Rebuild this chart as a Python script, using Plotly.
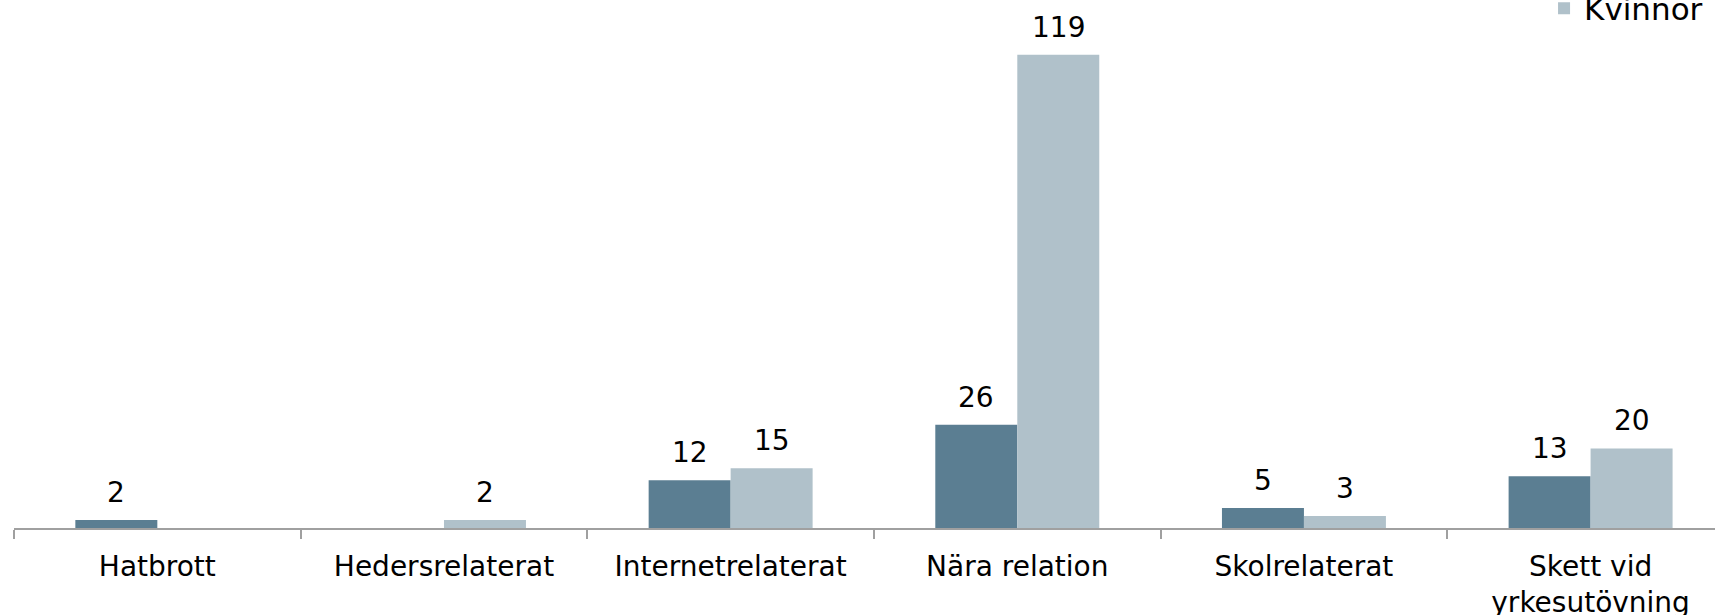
import plotly.graph_objects as go

categories = ["Hatbrott", "Hedersrelaterat", "Internetrelaterat", "Nära relation", "Skolrelaterat", "Skett vid<br>yrkesutövning"]
man = [2, None, 12, 26, 5, 13]
kvinnor = [None, 2, 15, 119, 3, 20]

C_MAN = "#5b7e92"
C_KV = "#b0c1ca"
FONT = "DejaVu Sans"
FS = 28

fig = go.Figure()
fig.add_trace(go.Bar(x=categories, y=man, name="Män", marker=dict(color=C_MAN, line=dict(width=0)),
                     offsetgroup="m", showlegend=False))
fig.add_trace(go.Bar(x=categories, y=kvinnor, name="Kvinnor", marker=dict(color=C_KV, line=dict(width=0)),
                     offsetgroup="k", showlegend=True))

# data labels
bw = 0.286
for i, c in enumerate(categories):
    for val, off in ((man[i], -bw / 2), (kvinnor[i], bw / 2)):
        if val is None:
            continue
        fig.add_annotation(x=i + off, y=val, xref="x", yref="y", text=str(val),
                           showarrow=False, yanchor="bottom", yshift=9,
                           font=dict(family=FONT, size=FS, color="#000000"))

fig.update_layout(
    width=1715, height=615,
    margin=dict(l=14, r=0, t=0, b=87, autoexpand=False),
    paper_bgcolor="white", plot_bgcolor="white",
    barmode="group", bargap=0.428, bargroupgap=0,
    font=dict(family=FONT, size=FS, color="#000000"),
    showlegend=True,
    legend=dict(x=0.8995, xanchor="left", y=1.035, yanchor="top", orientation="v",
                font=dict(family=FONT, size=31), bgcolor="rgba(0,0,0,0)",
                borderwidth=0, tracegroupgap=0),
    xaxis=dict(type="category", range=[-0.5, 5.434], showline=True, linecolor="#a0a0a0", linewidth=2,
               ticks="outside", tickson="boundaries", ticklen=9, tickcolor="#a0a0a0", tickwidth=2,
               automargin=False, ticklabelstandoff=12,
               showgrid=False, zeroline=False, tickfont=dict(family=FONT, size=FS, color="#000000")),
    yaxis=dict(range=[0, 132.8], visible=False, showgrid=False, zeroline=False, automargin=False),
)

fig.write_html("out.html", config={"displayModeBar": False},
               post_script="document.body.style.margin='0';document.body.style.overflow='hidden';")
